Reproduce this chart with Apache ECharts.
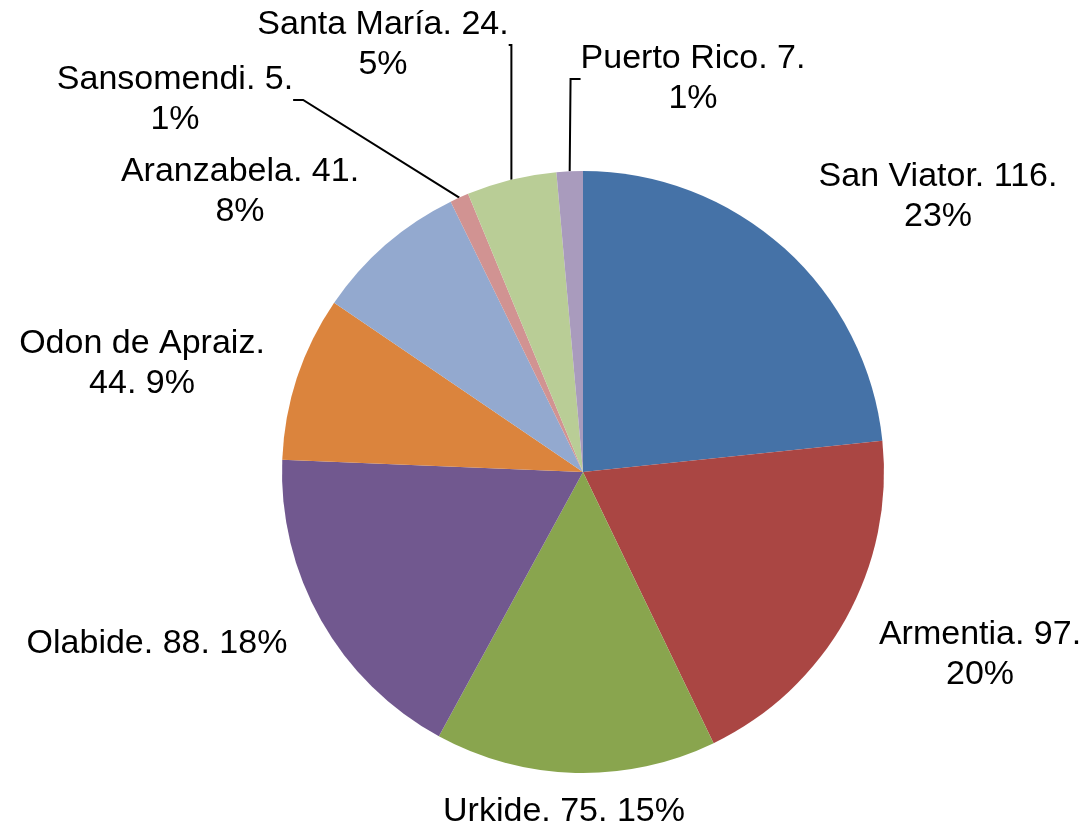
<!DOCTYPE html>
<html>
<head>
<meta charset="utf-8">
<script src="https://cdn.jsdelivr.net/npm/echarts@6/dist/echarts.min.js"></script>
<style>
  html, body { margin: 0; padding: 0; background: #fff; }
  #pieChart { width: 1087px; height: 832px; }
</style>
</head>
<body>
<div id="pieChart"></div>
<script>
// centros y alumnos
var centros = ['San Viator', 'Armentia', 'Urkide', 'Olabide', 'Odon de Apraiz', 'Aranzabela', 'Sansomendi', 'Santa María', 'Puerto Rico'];
var alumnos = [116, 97, 75, 88, 44, 41, 5, 24, 7];
var colores = ['#4572A7', '#AA4643', '#89A54E', '#71588F', '#DB843D', '#93A9CF', '#D19392', '#B9CD96', '#A99BBD'];

// label layout: where each label sits, how it is broken, whether it has a leader line
var labelPos = [[938, 197], [980, 655], [564, 812], [157, 644], [142, 364], [240, 192], [175, 100], [383, 45], [693, 79]];
var saltos = [1, 1, 0, 0, 2, 1, 1, 1, 1];   // 0 = one line, 1 = break before %, 2 = break after name
var conLinea = [false, false, false, false, false, false, true, true, true];

function pieChartInit() {
    var chartDom = document.getElementById('pieChart');
    var myChart = echarts.init(chartDom);
    var total = alumnos.reduce(function (s, v) { return s + v; }, 0);

    var data = centros.map(function (n, i) {
        return {
            name: n,
            value: alumnos[i],
            itemStyle: { color: colores[i] },
            labelLine: { show: conLinea[i] }
        };
    });

    var option = {
        animation: false,
        series: [
            {
                type: 'pie',
                center: [583, 472],
                radius: 301,
                startAngle: 90,
                clockwise: true,
                data: data,
                itemStyle: { borderWidth: 0 },
                label: {
                    show: true,
                    position: 'outside',
                    fontFamily: 'Liberation Sans, Arial, sans-serif',
                    fontSize: 34,
                    lineHeight: 40,
                    color: '#000',
                    align: 'center',
                    formatter: function (p) {
                        var pct = Math.round(p.value / total * 100) + '%';
                        var s = saltos[p.dataIndex];
                        if (s === 0) return p.name + '. ' + p.value + '. ' + pct;
                        if (s === 2) return p.name + '.\n' + p.value + '. ' + pct;
                        return p.name + '. ' + p.value + '.\n' + pct;
                    }
                },
                labelLine: {
                    length: 10,
                    length2: 10,
                    lineStyle: { color: '#000', width: 2 }
                },
                labelLayout: function (params) {
                    var pos = labelPos[params.dataIndex];
                    return { x: pos[0], y: pos[1], align: 'center', verticalAlign: 'middle' };
                }
            }
        ]
    };

    option && myChart.setOption(option);
}
pieChartInit();
</script>
</body>
</html>
